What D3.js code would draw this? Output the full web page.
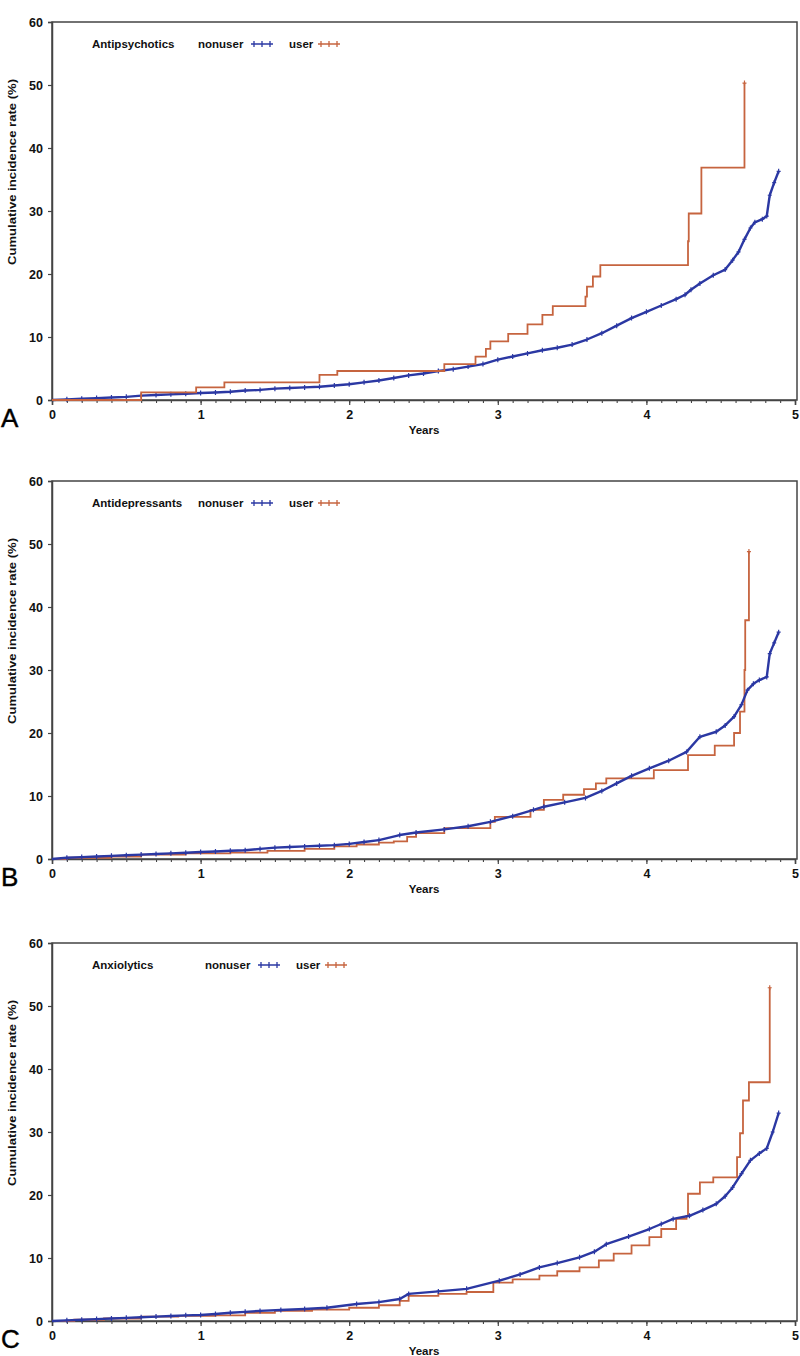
<!DOCTYPE html>
<html>
<head>
<meta charset="utf-8">
<script src="https://cdn.jsdelivr.net/npm/d3@7"></script>
<style>
  html, body { margin: 0; padding: 0; background: #fff; }
  svg { display: block; }
  text { font-family: "Liberation Sans", Arial, Helvetica, sans-serif; }
</style>
</head>
<body>
<svg id="chart" width="800" height="1356"></svg>
<script>
// ---------------- data ----------------
const xTicks = [0, 1, 2, 3, 4, 5];
const yTicks = [0, 10, 20, 30, 40, 50, 60];
const panelLetters = ["A", "B", "C"];
const drugClasses = ["Antipsychotics", "Antidepressants", "Anxiolytics"];
const seriesNames = ["nonuser", "user"];
const xLabel = "Years";
const yLabel = "Cumulative incidence rate (%)";

// Panel A – Antipsychotics
const nonuserA_t = [0,0.1,0.2,0.3,0.4,0.5,0.6,0.7,0.8,0.9,1.0,1.1,1.2,1.3,1.4,1.5,1.6,1.7,1.8,1.9,2.0,2.1,2.2,2.3,2.4,2.5,2.6,2.7,2.8,2.9,3.0,3.1,3.2,3.3,3.4,3.5,3.6,3.7,3.8,3.9,4.0,4.1,4.2,4.26,4.3,4.36,4.45,4.53,4.58,4.62,4.66,4.70,4.73,4.78,4.81,4.83,4.86,4.89];
const nonuserA_v = [0,0.1,0.2,0.3,0.4,0.5,0.7,0.8,0.9,1.0,1.1,1.2,1.3,1.5,1.6,1.8,1.9,2.0,2.1,2.3,2.5,2.8,3.1,3.5,3.9,4.2,4.6,4.9,5.3,5.7,6.4,6.9,7.4,7.9,8.3,8.8,9.6,10.6,11.8,13.0,14.0,15.0,16.0,16.7,17.5,18.5,19.8,20.7,22.2,23.5,25.5,27.3,28.2,28.7,29.2,32.5,34.5,36.3];
const userA_t = [0,0.6,0.97,1.16,1.8,1.92,2.64,2.85,2.92,2.95,3.07,3.2,3.3,3.37,3.59,3.6,3.64,3.69,4.28,4.285,4.37,4.66];
const userA_v = [0,1.2,2.0,2.8,4.0,4.6,5.7,6.9,8.1,9.3,10.5,12.0,13.5,14.9,16.4,18.0,19.6,21.4,25.2,29.6,36.9,50.3];

// Panel B – Antidepressants
const nonuserB_t = [0,0.1,0.2,0.3,0.4,0.5,0.6,0.7,0.8,0.9,1.0,1.1,1.2,1.3,1.4,1.5,1.6,1.7,1.8,1.9,2.0,2.1,2.2,2.34,2.45,2.64,2.8,2.95,3.1,3.24,3.31,3.45,3.59,3.7,3.8,3.9,4.02,4.15,4.27,4.36,4.47,4.53,4.59,4.64,4.68,4.72,4.76,4.81,4.83,4.86,4.89];
const nonuserB_v = [0,0.2,0.3,0.4,0.5,0.6,0.7,0.8,0.9,1.0,1.1,1.2,1.3,1.4,1.6,1.8,1.9,2.0,2.1,2.2,2.4,2.7,3.0,3.8,4.2,4.7,5.2,5.9,6.8,7.8,8.3,9.0,9.7,10.8,12.0,13.2,14.4,15.6,17.0,19.4,20.2,21.2,22.6,24.5,26.8,27.8,28.4,28.9,32.6,34.3,36.0];
const userB_t = [0,0.1,0.4,0.6,0.9,1.2,1.45,1.7,1.9,2.05,2.2,2.3,2.39,2.45,2.64,2.95,2.98,3.22,3.31,3.44,3.58,3.66,3.73,4.05,4.28,4.46,4.59,4.63,4.66,4.665,4.69];
const userB_v = [0,0.2,0.4,0.7,0.9,1.0,1.3,1.6,2.0,2.3,2.6,2.8,3.5,4.1,4.9,5.9,6.7,7.8,9.4,10.2,11.1,12.0,12.8,14.1,16.5,18.0,20.0,23.4,30.0,37.9,48.8];

// Panel C – Anxiolytics
const nonuserC_t = [0,0.1,0.2,0.3,0.4,0.5,0.6,0.7,0.8,0.9,1.0,1.1,1.2,1.3,1.4,1.54,1.7,1.85,2.05,2.2,2.34,2.4,2.6,2.79,3.01,3.15,3.28,3.4,3.55,3.65,3.73,3.88,4.02,4.1,4.18,4.29,4.38,4.47,4.53,4.58,4.64,4.70,4.76,4.81,4.85,4.89];
const nonuserC_v = [0,0.1,0.2,0.3,0.4,0.5,0.6,0.7,0.8,0.9,0.95,1.1,1.3,1.45,1.6,1.75,1.9,2.1,2.7,3.0,3.5,4.3,4.7,5.1,6.4,7.4,8.5,9.2,10.1,11.0,12.2,13.4,14.6,15.4,16.2,16.7,17.6,18.6,19.8,21.2,23.4,25.5,26.6,27.4,30.0,33.0];
const userC_t = [0,0.15,0.35,0.6,0.85,1.1,1.3,1.5,1.75,2.0,2.2,2.34,2.4,2.6,2.79,2.97,3.1,3.28,3.4,3.55,3.68,3.78,3.9,4.02,4.1,4.2,4.27,4.28,4.36,4.45,4.61,4.63,4.65,4.69,4.83];
const userC_v = [0,0.2,0.4,0.7,0.8,0.9,1.3,1.6,1.8,2.1,2.5,3.2,4.0,4.3,4.6,6.1,6.6,7.2,7.9,8.5,9.6,10.7,12.0,13.3,14.6,16.2,16.7,20.2,22.0,22.8,26.0,29.8,35.0,37.9,52.9];

const panelNonT = [nonuserA_t, nonuserB_t, nonuserC_t];
const panelNonV = [nonuserA_v, nonuserB_v, nonuserC_v];
const panelUserT = [userA_t, userB_t, userC_t];
const panelUserV = [userA_v, userB_v, userC_v];

// ---------------- layout ----------------
const panelTops = [22, 481, 943];
const plotH = 378;
const left = 52, right = 797;
const legendX = [[92, 198, 251, 289, 318], [92, 198, 251, 289, 318], [92, 205, 258, 296, 325]];
const colNon = "#2b38a3";
const colUser = "#c6643f";
const axisCol = "#444";

const svg = d3.select("#chart");
const x = d3.scaleLinear().domain([0, 5]).range([left, left + 5 * 148.6]);
const minorTicks = d3.range(0, 51).map(i => i / 10);

panelTops.forEach((top, p) => {
  const y = d3.scaleLinear().domain([0, 60]).range([top + plotH, top]);
  const g = svg.append("g");

  // frame
  g.append("rect")
    .attr("x", left).attr("y", top)
    .attr("width", right - left).attr("height", plotH)
    .attr("fill", "none").attr("stroke", axisCol).attr("stroke-width", 1.5);

  // y axis
  const yAxis = d3.axisLeft(y).tickValues(yTicks).tickSize(4).tickPadding(5).tickFormat(d3.format("d"));
  const ya = g.append("g").attr("transform", `translate(${left},0)`).call(yAxis);
  ya.select(".domain").attr("stroke", axisCol).attr("stroke-width", 1.5);
  ya.selectAll(".tick line").attr("stroke", axisCol).attr("stroke-width", 1.2);
  ya.selectAll(".tick text").attr("font-size", 12.5).attr("font-weight", "bold").attr("fill", "#111")
    .attr("font-family", "'Liberation Sans', Arial, sans-serif");

  // x axis: minor + major
  const xMinor = d3.axisBottom(x).tickValues(minorTicks).tickSize(3).tickFormat("");
  const xm = g.append("g").attr("transform", `translate(0,${top + plotH})`).call(xMinor);
  xm.select(".domain").remove();
  xm.selectAll(".tick line").attr("stroke", axisCol).attr("stroke-width", 1.1);
  const xAxis = d3.axisBottom(x).tickValues(xTicks).tickSize(5).tickPadding(5).tickFormat(d3.format("d"));
  const xa = g.append("g").attr("transform", `translate(0,${top + plotH})`).call(xAxis);
  xa.select(".domain").attr("stroke", axisCol).attr("stroke-width", 1.5);
  xa.selectAll(".tick line").attr("stroke", axisCol).attr("stroke-width", 1.2);
  xa.selectAll(".tick text").attr("font-size", 12.5).attr("font-weight", "bold").attr("fill", "#111")
    .attr("font-family", "'Liberation Sans', Arial, sans-serif");

  // axis titles
  g.append("text").attr("x", 424).attr("y", top + plotH + 34)
    .attr("text-anchor", "middle").attr("font-size", 11.5).attr("font-weight", "bold").attr("fill", "#111")
    .text(xLabel);
  g.append("text")
    .attr("transform", `translate(16,${top + 150}) rotate(-90)`)
    .attr("text-anchor", "middle").attr("font-size", 11).attr("font-weight", "bold").attr("fill", "#111")
    .attr("textLength", 186).attr("lengthAdjust", "spacingAndGlyphs")
    .text(yLabel);

  // panel letter
  g.append("text").attr("x", 1).attr("y", top + plotH + 27)
    .attr("font-size", 26).attr("fill", "#000").attr("stroke", "#000").attr("stroke-width", 0.4)
    .text(panelLetters[p]);

  // curves
  const stepLine = d3.line().x(d => x(d[0])).y(d => y(d[1])).curve(d3.curveStepAfter);
  const denseLine = d3.line().x(d => x(d[0])).y(d => y(d[1])).curve(d3.curveLinear);
  const nonData = panelNonT[p].map((t, i) => [t, panelNonV[p][i]]);
  const userData = panelUserT[p].map((t, i) => [t, panelUserV[p][i]]);

  function drawNon() {
    g.append("path").datum(nonData).attr("d", denseLine)
      .attr("fill", "none").attr("stroke", colNon).attr("stroke-width", 2.4)
      .attr("stroke-linejoin", "round");
    g.selectAll(null).data(nonData.slice(1)).enter().append("path")
      .attr("d", d => `M${x(d[0]) - 2},${y(d[1])}h4M${x(d[0])},${y(d[1]) - 2.5}v5`)
      .attr("stroke", colNon).attr("stroke-width", 1.2);
  }
  function drawUser() {
    g.append("path").datum(userData).attr("d", stepLine)
      .attr("fill", "none").attr("stroke", colUser).attr("stroke-width", 1.8);
    g.selectAll(null).data(userData.slice(-1)).enter().append("path")
      .attr("d", d => `M${x(d[0]) - 2},${y(d[1])}h4M${x(d[0])},${y(d[1]) - 2.5}v5`)
      .attr("stroke", colUser).attr("stroke-width", 1.2);
  }
  if (p !== 0) { drawUser(); drawNon(); } else { drawNon(); drawUser(); }

  // legend
  const lx = legendX[p];
  const ly = top + 26;
  const legText = (tx, txt) => g.append("text").attr("x", tx).attr("y", ly)
    .attr("font-size", 11.5).attr("font-weight", "bold").attr("fill", "#111").text(txt);
  legText(lx[0], drugClasses[p]);
  legText(lx[1], seriesNames[0]);
  legText(lx[3], seriesNames[1]);
  [[lx[2], colNon], [lx[4], colUser]].forEach(([mx, c]) => {
    g.append("line").attr("x1", mx).attr("x2", mx + 22).attr("y1", ly - 4).attr("y2", ly - 4)
      .attr("stroke", c).attr("stroke-width", 1.5);
    [0, 1, 2].forEach(k => {
      const cx = mx + 3 + k * 8;
      g.append("line").attr("x1", cx).attr("x2", cx).attr("y1", ly - 7).attr("y2", ly - 1)
        .attr("stroke", c).attr("stroke-width", 1.3);
    });
  });
});
</script>
</body>
</html>
